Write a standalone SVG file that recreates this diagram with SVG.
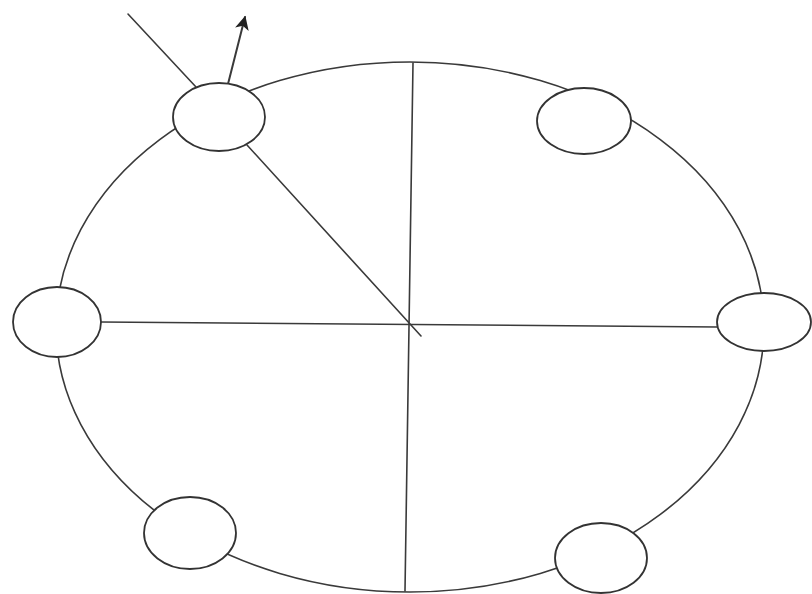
<svg xmlns="http://www.w3.org/2000/svg" width="812" height="594" viewBox="0 0 812 594">
<style>
.ln{stroke:#3a3a3a;stroke-width:1.6;fill:none;stroke-linecap:round}
.node{stroke:#333;stroke-width:1.8;fill:#fff}
</style>
<defs>
<marker id="ah" viewBox="0 0 10 10" refX="9" refY="5" markerWidth="16" markerHeight="14" markerUnits="userSpaceOnUse" orient="auto">
<path d="M0,0 L10,5 L0,10 L2.5,5 Z" fill="#222"/>
</marker>
</defs>
<rect width="812" height="594" fill="#fff"/>
<g id="ring"><ellipse class="ln" cx="410" cy="327" rx="354" ry="265"/></g>
<g id="connectors">
<line class="ln" x1="413" y1="63" x2="405" y2="591"/>
<line class="ln" x1="101" y1="322" x2="717" y2="327"/>
<line class="ln" x1="247" y1="145" x2="421" y2="336"/>
<line class="ln" x1="128" y1="14" x2="196" y2="87"/>
<line class="ln" x1="228" y1="84" x2="245" y2="17" marker-end="url(#ah)" style="stroke-width:2"/>
</g>
<g id="node-top-left"><ellipse class="node" cx="219" cy="117" rx="46" ry="34"/></g>
<g id="node-top-right"><ellipse class="node" cx="584" cy="121" rx="47" ry="33"/></g>
<g id="node-left"><ellipse class="node" cx="57" cy="322" rx="44" ry="35"/></g>
<g id="node-right"><ellipse class="node" cx="764" cy="322" rx="47" ry="29"/></g>
<g id="node-bottom-left"><ellipse class="node" cx="190" cy="533" rx="46" ry="36"/></g>
<g id="node-bottom-right"><ellipse class="node" cx="601" cy="558" rx="46" ry="35"/></g>
</svg>
